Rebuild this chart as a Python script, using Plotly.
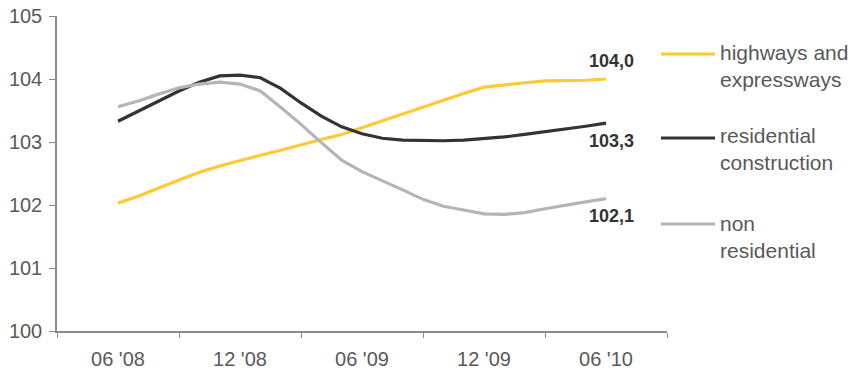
import plotly.graph_objects as go

# Monthly observations, June 2008 to June 2010
months = [
    "06 '08", "07 '08", "08 '08", "09 '08", "10 '08", "11 '08", "12 '08",
    "01 '09", "02 '09", "03 '09", "04 '09", "05 '09", "06 '09",
    "07 '09", "08 '09", "09 '09", "10 '09", "11 '09", "12 '09",
    "01 '10", "02 '10", "03 '10", "04 '10", "05 '10", "06 '10",
]

highways = [102.03, 102.14, 102.27, 102.40, 102.52, 102.62, 102.71, 102.79, 102.87,
            102.96, 103.04, 103.12, 103.23, 103.34, 103.45, 103.56, 103.67, 103.77,
            103.87, 103.91, 103.94, 103.97, 103.97, 103.98, 104.0]
residential = [103.33, 103.49, 103.65, 103.81, 103.95, 104.05, 104.06, 104.02, 103.85,
               103.62, 103.41, 103.24, 103.13, 103.06, 103.03, 103.02, 103.02, 103.03,
               103.05, 103.08, 103.12, 103.16, 103.21, 103.25, 103.3]
non_residential = [103.56, 103.65, 103.76, 103.86, 103.92, 103.95, 103.92, 103.81, 103.55,
                   103.28, 102.99, 102.71, 102.53, 102.39, 102.24, 102.09, 101.98, 101.92,
                   101.86, 101.85, 101.88, 101.94, 102.00, 102.05, 102.1]

series_names = ["highways and<br>expressways", "residential<br>construction", "non<br>residential"]
series_values = [highways, residential, non_residential]
series_colors = ["#FFC933", "#333333", "#B5B5B5"]

y_ticks = [100, 101, 102, 103, 104, 105]
label_every = 6

W, H = 861, 371
L, R, T, B = 57, 194, 16, 40
PW, PH = W - L - R, H - T - B

FONT = "Liberation Sans, Arial, sans-serif"
TEXT_GREY = "#595959"
AXIS_GREY = "#8C8C8C"


def paper_x(px):
    return (px - L) / PW


def paper_y(py):
    return (H - B - py) / PH


x = list(range(len(months)))

fig = go.Figure()
for name, vals, col in zip(series_names, series_values, series_colors):
    fig.add_trace(go.Scatter(
        x=x, y=vals, mode="lines", name=name,
        line=dict(color=col, width=3.2),
        showlegend=False, hoverinfo="skip",
    ))

# end-of-series value labels (above for the top line, below for the others)
label_shift = [18, -18, -17]
annotations = []
for vals, shift in zip(series_values, label_shift):
    annotations.append(dict(
        x=x[-1], y=vals[-1], xref="x", yref="y",
        text=f"<b>{vals[-1]:.1f}</b>".replace(".", ","),
        showarrow=False, xshift=5, yshift=shift,
        font=dict(family=FONT, size=18, color="#333333"),
    ))

# hand-built legend: long line swatch with a two-line caption to its right
legend_rows_px = [54, 138, 224]
legend_text_mid_px = [66, 149, 237]
shapes = []
for name, col, ry, ty in zip(series_names, series_colors, legend_rows_px, legend_text_mid_px):
    shapes.append(dict(
        type="line", xref="paper", yref="paper",
        x0=paper_x(661), x1=paper_x(715), y0=paper_y(ry), y1=paper_y(ry),
        line=dict(color=col, width=3.2),
    ))
    annotations.append(dict(
        x=paper_x(718), y=paper_y(ty), xref="paper", yref="paper",
        xanchor="left", yanchor="middle", align="left",
        text=name, showarrow=False,
        font=dict(family=FONT, size=21, color=TEXT_GREY),
    ))

fig.update_layout(
    width=W, height=H,
    margin=dict(l=L, r=R, t=T, b=B, pad=0, autoexpand=False),
    paper_bgcolor="white", plot_bgcolor="white",
    font=dict(family=FONT, size=20, color=TEXT_GREY),
    annotations=annotations, shapes=shapes,
)

fig.update_xaxes(
    range=[-label_every / 2, len(months) - 1 + label_every / 2],
    tickmode="array",
    tickvals=x[::label_every], ticktext=months[::label_every],
    ticks="", showgrid=False, zeroline=False,
    showline=True, linecolor=AXIS_GREY, linewidth=1.5,
    ticklabelstandoff=9, automargin=False,
    minor=dict(
        tickmode="array",
        tickvals=[v - label_every / 2 for v in x[::label_every]] + [x[-1] + label_every / 2],
        ticks="outside", ticklen=5, tickcolor=AXIS_GREY, tickwidth=1, showgrid=False,
    ),
    fixedrange=True,
)
fig.update_yaxes(
    range=[y_ticks[0], y_ticks[-1]],
    tickmode="array", tickvals=y_ticks,
    ticks="outside", ticklen=6, tickcolor=AXIS_GREY, tickwidth=1,
    showgrid=False, zeroline=False,
    showline=True, linecolor=AXIS_GREY, linewidth=1.5,
    ticklabelstandoff=3, automargin=False,
    fixedrange=True,
)

fig.write_html("out.html", config={"displayModeBar": False})
